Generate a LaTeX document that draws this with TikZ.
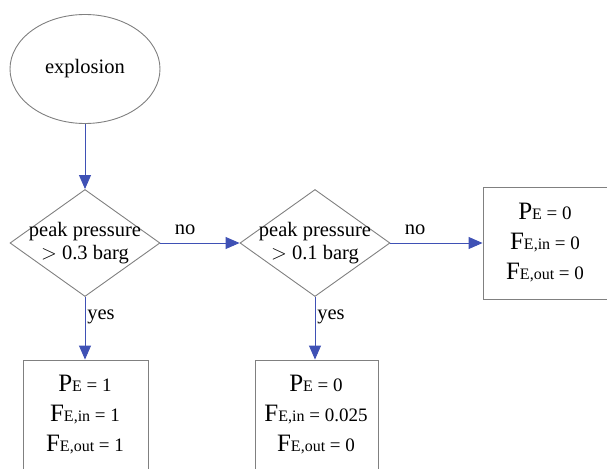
\documentclass[tikz,border=0pt]{standalone}
\usepackage{fontspec}
\setmainfont{Liberation Serif}
\usetikzlibrary{shapes.geometric,arrows.meta}
\definecolor{lineg}{RGB}{128,128,128}
\definecolor{arrb}{RGB}{63,81,181}
\tikzset{
  shapeline/.style={draw=lineg, line width=0.9pt},
  ell/.style={shapeline, ellipse, minimum width=150pt, minimum height=109pt, inner sep=0pt},
  dia/.style={shapeline, diamond, minimum width=150pt, minimum height=107pt, inner sep=0pt},
  outbox/.style={shapeline, rectangle, inner sep=0pt},
  txt/.style={font=\fontsize{20.5}{23}\selectfont, align=center, inner sep=0pt},
  boxtxt/.style={font=\fontsize{19}{30}\selectfont, align=center, inner sep=0pt},
  conn/.style={draw=arrb, line width=0.9pt, -{Triangle[length=14pt,width=12pt,fill=arrb]}},
  lbl/.style={font=\fontsize{20.5}{23}\selectfont, inner sep=0pt}
}
\newcommand{\bigP}[2]{{\fontsize{25}{30}\selectfont #1}{\fontsize{16}{30}\selectfont #2}}
\newcommand{\rest}[1]{#1}
\begin{document}
\begin{tikzpicture}[x=1pt,y=-1pt]
\useasboundingbox (0,0) rectangle (607,468);
\clip (0,0) rectangle (607,468);
\node[ell] (expl) at (85,69) {};
\node[txt] (explt) at (85,69) {explosion};
\node[dia] (d1) at (85,243) {};
\node[txt] (d1t) at (85,243) {peak pressure\\$>$ 0.3 barg};
\node[dia] (d2) at (315,243) {};
\node[txt] (d2t) at (315,243) {peak pressure\\$>$ 0.1 barg};
\node[outbox, minimum width=137pt, minimum height=112pt] (r) at (551.5,243) {};
\node[outbox, minimum width=125pt, minimum height=140pt] (b1) at (85.5,430) {};
\node[outbox, minimum width=123pt, minimum height=140pt] (b2) at (316.5,430) {};
\node[boxtxt] (rt) at (545,243) {\bigP{P}{E}\rest{ = 0}\\\bigP{F}{E,in}\rest{ = 0}\\\bigP{F}{E,out}\rest{ = 0}};
\node[boxtxt] (b1t) at (85,415) {\bigP{P}{E}\rest{ = 1}\\\bigP{F}{E,in}\rest{ = 1}\\\bigP{F}{E,out}\rest{ = 1}};
\node[boxtxt] (b2t) at (316,415) {\bigP{P}{E}\rest{ = 0}\\\bigP{F}{E,in}\rest{ = 0.025}\\\bigP{F}{E,out}\rest{ = 0}};
\draw[conn] (expl.south) -- (d1.north);
\draw[conn] (d1.east) -- (d2.west);
\draw[conn] (d2.east) -- (r.west);
\draw[conn] (d1.south) -- (b1.north -| d1.south);
\draw[conn] (d2.south) -- (b2.north -| d2.south);
\node[lbl] (no1) at (185,230) {no};
\node[lbl] (no2) at (415,230) {no};
\node[lbl] (yes1) at (101,317) {yes};
\node[lbl] (yes2) at (331,317) {yes};
\end{tikzpicture}
\end{document}
